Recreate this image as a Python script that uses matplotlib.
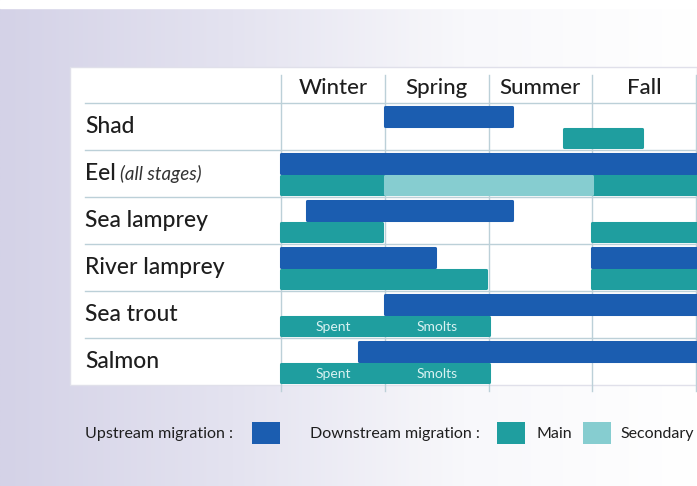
import numpy as np
import matplotlib.pyplot as plt
from matplotlib.patches import Rectangle
from matplotlib.colors import LinearSegmentedColormap

# categories
seasons = ['Winter', 'Spring', 'Summer', 'Fall']
species = ['Shad', 'Eel', 'Sea lamprey', 'River lamprey', 'Sea trout', 'Salmon']

# periods in season units (0 = start of winter, 4 = end of fall)
up_row = [0, 1, 2, 3, 3, 4, 5]
up_start = [1.0, 0.0, 0.25, 0.0, 3.0, 1.0, 0.75]
up_end = [2.23, 4.0, 2.23, 1.48, 4.0, 4.0, 4.0]

main_row = [0, 1, 1, 2, 2, 3, 3, 4, 5]
main_start = [2.73, 0.0, 3.0, 0.0, 3.0, 0.0, 3.0, 0.0, 0.0]
main_end = [3.48, 1.0, 4.0, 0.97, 4.0, 1.98, 4.0, 2.0, 2.0]

sec_row = [1]
sec_start = [1.0]
sec_end = [3.0]

stage_row = [4, 4, 5, 5]
stage_x = [0.5, 1.5, 0.5, 1.5]
stage_text = ['Spent', 'Smolts', 'Spent', 'Smolts']

c_up = '#1b5db0'
c_main = '#1f9e9f'
c_sec = '#86cdd0'
c_grid = '#bcd0d8'
c_text = '#1e1e1e'

W, H = 697, 486
plt.rcParams['font.family'] = ['Lato', 'DejaVu Sans']
fig = plt.figure(figsize=(W / 100, H / 100), dpi=100)


def fx(px):
    return px / W


def fy(py):
    return 1 - py / H


# background gradient + white panel
bg = fig.add_axes([0, 0, 1, 1])
grad = np.tile(np.linspace(0, 1, 256), (2, 1))
cmap = LinearSegmentedColormap.from_list('bg', ['#d4d2e7', '#e4e3f0', '#f8f8fb', '#ffffff'])
bg.imshow(grad, aspect='auto', cmap=cmap, extent=[0, 1, 0, 1])
bg.add_patch(Rectangle((0, fy(8)), 1, 8 / H, color='white'))
bg.add_patch(Rectangle((fx(70), fy(385)), fx(697) - fx(70), fy(67) - fy(385),
                       facecolor='white', edgecolor='#e0e0ea', lw=1))
bg.set_xlim(0, 1)
bg.set_ylim(0, 1)
bg.axis('off')

x0, ppu = 281, 103.75
row_top, row_h = 103, 47
ax = fig.add_axes([fx(70), fy(385), fx(697) - fx(70), fy(67) - fy(385)])
ax.set_xlim((70 - x0) / ppu, (697 - x0) / ppu)
ax.set_ylim(6, (67 - row_top) / row_h)
ax.axis('off')

# grid
for i in range(5):
    ax.plot([i, i], [-0.6, 6.12], color=c_grid, lw=1, clip_on=False, zorder=1)
for j in range(6):
    ax.plot([(85 - x0) / ppu, 4.0], [j, j], color=c_grid, lw=1, zorder=1)

# bars (round joins give the soft corners)
h = 0.39
bar_kw = dict(height=h, zorder=3, linewidth=2.2, joinstyle='round')
ax.barh([r + 0.29 for r in up_row], np.subtract(up_end, up_start), left=up_start,
        color=c_up, edgecolor=c_up, **bar_kw)
ax.barh([r + 0.74 for r in main_row], np.subtract(main_end, main_start), left=main_start,
        color=c_main, edgecolor=c_main, **bar_kw)
ax.barh([r + 0.74 for r in sec_row], np.subtract(sec_end, sec_start), left=sec_start,
        color=c_sec, edgecolor=c_sec, **bar_kw)

for r, x, t in zip(stage_row, stage_x, stage_text):
    ax.text(x, r + 0.76, t, ha='center', va='center', fontsize=10, color='#d9f2f2', zorder=4)

# headers
for i, s in enumerate(seasons):
    ax.text(i + 0.5, -0.32, s, ha='center', va='center', fontsize=16, color=c_text,
            fontweight='medium')

# row labels
lx = (85 - x0) / ppu
for j, s in enumerate(species):
    ax.text(lx, j + 0.5, s, ha='left', va='center', fontsize=16.5, color=c_text,
            fontweight='medium')
ax.text((120 - x0) / ppu, 1.52, '(all stages)', ha='left', va='center', fontsize=13.5,
        style='italic', color='#333333')

# legend
ly = fy(434)
fig.text(fx(85), ly, 'Upstream migration :', ha='left', va='center', fontsize=11.5, color=c_text)
fig.text(fx(310), ly, 'Downstream migration :', ha='left', va='center', fontsize=11.5, color=c_text)
fig.text(fx(537), ly, 'Main', ha='left', va='center', fontsize=11.5, color=c_text)
fig.text(fx(620), ly, 'Secondary', ha='left', va='center', fontsize=11.5, color=c_text)
for px, c in [(252, c_up), (497, c_main), (583, c_sec)]:
    fig.patches.append(Rectangle((fx(px), fy(444)), fx(28), 22 / H, transform=fig.transFigure,
                                 facecolor=c, edgecolor='none'))

fig.savefig('out.png', dpi=100)
